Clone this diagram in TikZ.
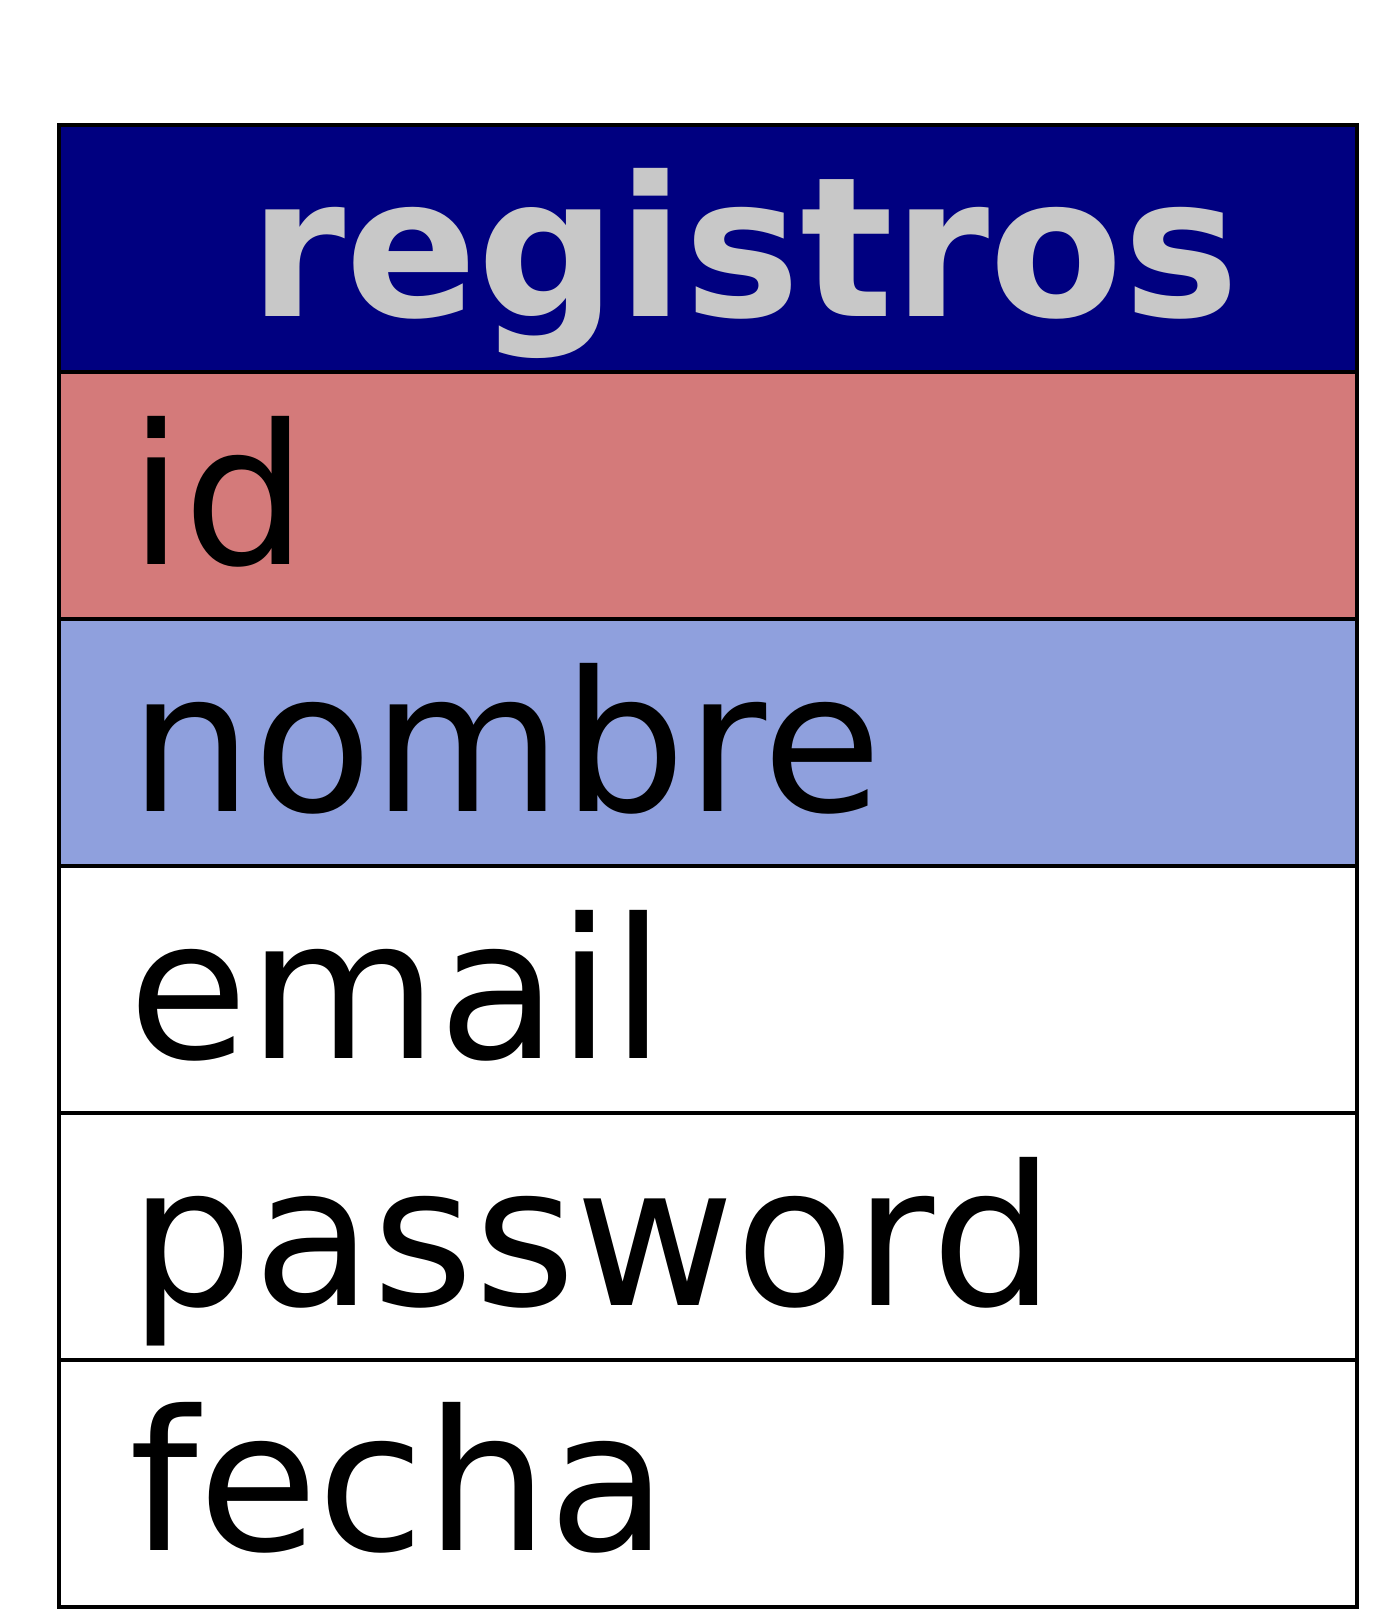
\documentclass[tikz,border=0pt]{standalone}
\usepackage{fontspec}
\setmainfont{DejaVu Sans}
\definecolor{hdrblue}{HTML}{000080}
\definecolor{hdrtext}{HTML}{C8C8C8}
\definecolor{keyred}{HTML}{D47A7A}
\definecolor{namblue}{HTML}{8FA0DD}
\tikzset{
  cell/.style={draw=black, line width=1.9pt},
  field/.style={anchor=base west, inner sep=0pt, font=\fontsize{97.5pt}{117pt}\selectfont},
}
\begin{document}
\begin{tikzpicture}[x=0.5pt, y=0.5pt]
      \useasboundingbox (0,0) rectangle (1386,-1619);
      \draw[cell, fill=hdrblue] (59,-125) rectangle (1357,-372);
      \draw[cell, fill=keyred] (59,-372) rectangle (1357,-619);
      \draw[cell, fill=namblue] (59,-619) rectangle (1357,-866);
      \draw[cell, fill=white] (59,-866) rectangle (1357,-1113);
      \draw[cell, fill=white] (59,-1113) rectangle (1357,-1360);
      \draw[cell, fill=white] (59,-1360) rectangle (1357,-1607);
      \node[field, text=hdrtext, font=\fontsize{97.5pt}{117pt}\selectfont\bfseries] (tabla) at (249,-316) {registros};
      \node[field] (campoid) at (129,-564) {id};
      \node[field] (camponombre) at (129,-811) {nombre};
      \node[field] (campoemail) at (128,-1058) {email};
      \node[field] (campopass) at (129,-1305) {password};
      \node[field] (campofecha) at (129,-1550) {fecha};
    \end{tikzpicture}
\end{document}
